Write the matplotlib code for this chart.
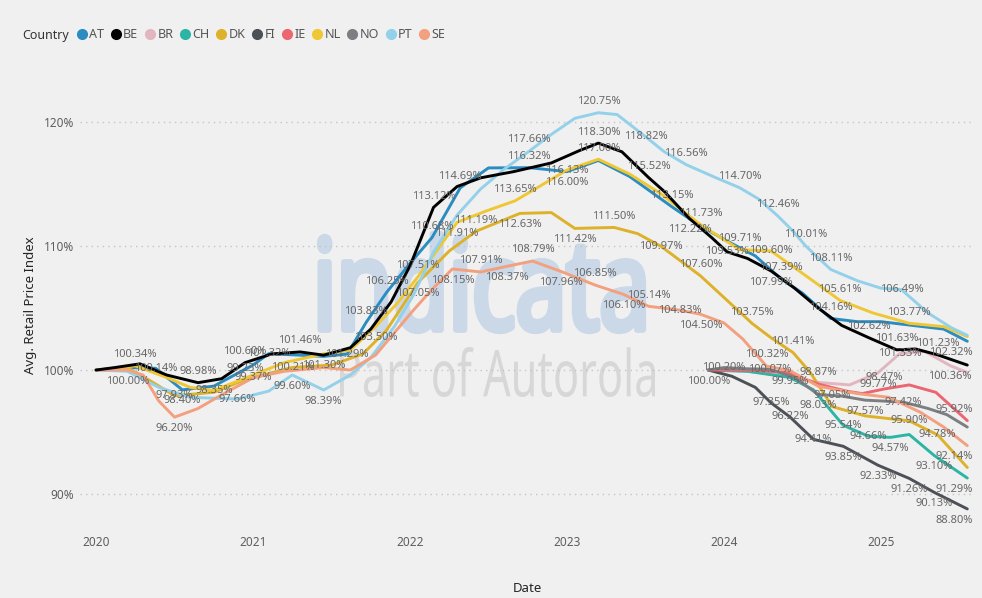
import matplotlib

matplotlib.use("Agg")
import matplotlib.pyplot as plt
from matplotlib.font_manager import FontProperties
from matplotlib.lines import Line2D
from matplotlib.patches import PathPatch
from matplotlib.textpath import TextPath
from matplotlib.transforms import Affine2D

plt.rcParams["font.family"] = ["Noto Sans", "DejaVu Sans"]

# (decimal year, index value, label position: None = no label, 1 above, -1 below, 0 on the point)
at_pts = [
    (2020.00, 100.00, None), (2020.20, 100.20, None), (2020.38, 100.14, 0), (2020.55, 98.40, -1),
    (2020.75, 98.70, None), (2021.00, 100.40, None), (2021.10, 101.32, 0), (2021.30, 101.20, None),
    (2021.45, 101.10, None), (2021.60, 101.29, 0), (2021.72, 103.83, 1), (2021.85, 106.25, 1),
    (2022.00, 108.60, None), (2022.14, 110.68, 1), (2022.32, 114.69, 1), (2022.50, 116.30, None),
    (2022.76, 116.32, 1), (2023.00, 116.00, -1), (2023.20, 116.90, None), (2023.40, 115.60, None),
    (2023.67, 113.15, 1), (2023.85, 111.60, None), (2024.05, 110.20, None), (2024.20, 109.20, None),
    (2024.36, 107.39, 1), (2024.50, 106.20, None), (2024.68, 104.16, 1), (2024.85, 103.90, None),
    (2025.00, 103.90, None), (2025.20, 103.60, None), (2025.40, 103.30, None), (2025.55, 102.32, -1),
]
be_pts = [
    (2020.00, 100.00, None), (2020.12, 100.20, None), (2020.28, 100.50, None), (2020.45, 99.60, None),
    (2020.65, 98.98, 1), (2020.80, 99.30, None), (2020.95, 100.60, 1), (2021.12, 101.30, None),
    (2021.30, 101.46, 1), (2021.45, 101.20, None), (2021.62, 101.80, None), (2021.75, 103.30, None),
    (2021.88, 105.50, None), (2022.00, 108.40, None), (2022.15, 113.12, 1), (2022.30, 114.80, None),
    (2022.45, 115.50, None), (2022.66, 116.00, None), (2022.90, 116.70, None), (2023.08, 117.70, None),
    (2023.20, 118.30, 1), (2023.35, 117.60, None), (2023.52, 115.52, 1), (2023.62, 114.40, None),
    (2023.78, 112.22, -1), (2023.92, 110.70, None), (2024.02, 109.53, 0), (2024.15, 109.00, None),
    (2024.30, 107.99, -1), (2024.45, 106.60, None), (2024.60, 105.00, None), (2024.75, 103.60, None),
    (2024.92, 102.62, 1), (2025.10, 101.63, 1), (2025.22, 101.70, None), (2025.36, 101.23, 1),
    (2025.55, 100.40, None),
]
br_pts = [
    (2023.90, 100.00, None), (2024.15, 99.90, None), (2024.40, 99.50, None), (2024.60, 99.00, None),
    (2024.80, 98.80, None), (2024.98, 99.77, -1), (2025.12, 101.33, 0), (2025.28, 101.50, None),
    (2025.44, 100.36, -1), (2025.55, 99.80, None),
]
ch_pts = [
    (2023.90, 100.00, None), (2024.15, 99.90, None), (2024.42, 99.40, None), (2024.57, 98.40, None),
    (2024.76, 95.54, 0), (2024.92, 94.66, 0), (2025.06, 94.57, -1), (2025.18, 94.80, None),
    (2025.34, 93.10, -1), (2025.55, 91.29, -1),
]
dk_pts = [
    (2020.00, 100.00, None), (2020.20, 100.20, None), (2020.35, 99.10, None), (2020.50, 97.93, 0),
    (2020.75, 98.20, None), (2020.95, 99.23, 1), (2021.25, 100.21, 0), (2021.50, 100.40, None),
    (2021.70, 101.30, None), (2021.85, 103.20, None), (2022.05, 107.05, -1), (2022.25, 109.60, None),
    (2022.42, 111.19, 1), (2022.70, 112.63, -1), (2022.90, 112.70, None), (2023.05, 111.42, -1),
    (2023.30, 111.50, 1), (2023.45, 111.00, None), (2023.60, 109.97, 0), (2023.85, 107.60, 1),
    (2024.18, 103.75, 1), (2024.30, 102.60, None), (2024.44, 101.41, 1), (2024.55, 99.80, None),
    (2024.69, 97.05, 1), (2024.90, 96.30, None), (2025.18, 95.90, 0), (2025.36, 94.78, 0),
    (2025.55, 92.14, 1),
]
fi_pts = [
    (2023.90, 100.00, -1), (2024.05, 99.50, None), (2024.20, 98.60, None), (2024.30, 97.35, 0),
    (2024.42, 96.22, 0), (2024.57, 94.41, 0), (2024.76, 93.85, -1), (2024.98, 92.33, -1),
    (2025.18, 91.26, -1), (2025.34, 90.13, -1), (2025.55, 88.80, -1),
]
ie_pts = [
    (2023.90, 100.00, None), (2024.15, 100.00, None), (2024.40, 99.80, None), (2024.60, 98.87, 1),
    (2024.78, 98.30, None), (2024.88, 98.10, None), (2025.02, 98.47, 1), (2025.18, 98.80, None),
    (2025.35, 98.20, None), (2025.55, 95.92, 1),
]
nl_pts = [
    (2020.00, 100.00, None), (2020.25, 100.34, 1), (2020.45, 99.40, None), (2020.60, 98.60, None),
    (2020.75, 98.35, 0), (2021.00, 99.60, None), (2021.20, 100.60, None), (2021.45, 101.30, -1),
    (2021.62, 101.60, None), (2021.78, 103.50, -1), (2021.92, 105.40, None), (2022.05, 107.51, 1),
    (2022.30, 111.91, -1), (2022.48, 112.80, None), (2022.67, 113.65, 1), (2022.85, 115.00, None),
    (2023.00, 116.13, 0), (2023.20, 117.00, 1), (2023.40, 115.80, None), (2023.60, 114.20, None),
    (2023.85, 111.73, 1), (2024.10, 109.71, 1), (2024.30, 109.60, 0), (2024.50, 107.80, None),
    (2024.74, 105.61, 1), (2024.95, 104.60, None), (2025.18, 103.77, 1), (2025.40, 103.50, None),
    (2025.55, 102.70, None),
]
no_pts = [
    (2023.90, 100.00, None), (2024.00, 100.20, 0), (2024.15, 100.10, None), (2024.29, 100.07, 0),
    (2024.45, 99.40, None), (2024.60, 98.03, -1), (2024.75, 97.90, None), (2024.90, 97.57, -1),
    (2025.14, 97.42, 0), (2025.30, 96.90, None), (2025.42, 96.40, None), (2025.55, 95.40, None),
]
pt_pts = [
    (2020.00, 100.00, None), (2020.20, 99.90, None), (2020.40, 98.60, None), (2020.60, 97.80, None),
    (2020.90, 97.66, 0), (2021.10, 98.30, None), (2021.25, 99.60, -1), (2021.45, 98.39, -1),
    (2021.62, 99.60, None), (2021.75, 101.00, None), (2021.90, 103.50, None), (2022.02, 106.00, None),
    (2022.15, 109.50, None), (2022.30, 112.50, None), (2022.45, 114.60, None), (2022.60, 116.20, None),
    (2022.76, 117.66, 1), (2022.90, 119.00, None), (2023.05, 120.30, None), (2023.20, 120.75, 1),
    (2023.32, 120.60, None), (2023.50, 118.82, 0), (2023.62, 117.60, None), (2023.76, 116.56, 1),
    (2023.95, 115.50, None), (2024.10, 114.70, 1), (2024.22, 113.80, None), (2024.34, 112.46, 1),
    (2024.44, 111.20, None), (2024.52, 110.01, 1), (2024.68, 108.11, 1), (2024.85, 107.20, None),
    (2025.00, 106.60, None), (2025.13, 106.49, 0), (2025.30, 104.60, None), (2025.45, 103.40, None),
    (2025.55, 102.80, None),
]
se_pts = [
    (2020.00, 100.00, None), (2020.20, 100.00, -1), (2020.30, 99.60, None), (2020.40, 97.50, None),
    (2020.50, 96.20, -1), (2020.65, 96.90, None), (2020.80, 98.00, None), (2021.00, 99.37, 0),
    (2021.20, 99.90, None), (2021.45, 100.20, None), (2021.62, 100.00, None), (2021.78, 101.20, None),
    (2021.92, 103.30, None), (2022.02, 104.80, None), (2022.14, 106.50, None), (2022.27, 108.15, -1),
    (2022.45, 107.91, 1), (2022.62, 108.37, -1), (2022.78, 108.79, 1), (2022.96, 107.96, -1),
    (2023.18, 106.85, 1), (2023.36, 106.10, -1), (2023.52, 105.14, 1), (2023.72, 104.83, 0),
    (2023.85, 104.50, -1), (2024.00, 103.80, None), (2024.12, 102.50, None), (2024.27, 100.32, 1),
    (2024.42, 99.95, -1), (2024.60, 98.70, None), (2024.85, 98.10, None), (2025.05, 97.80, None),
    (2025.25, 96.60, None), (2025.40, 95.40, None), (2025.55, 93.90, None),
]

countries = ["AT", "BE", "BR", "CH", "DK", "FI", "IE", "NL", "NO", "PT", "SE"]
series = [at_pts, be_pts, br_pts, ch_pts, dk_pts, fi_pts, ie_pts, nl_pts, no_pts, pt_pts, se_pts]
colors = ["#2A8CC0", "#000000", "#E2B6BE", "#2CB5A5", "#DDB22A", "#4B5157",
          "#EC6670", "#EFC734", "#7C7E82", "#93D1EA", "#F3A07F"]
years = [2020, 2021, 2022, 2023, 2024, 2025]
y_ticks = [90, 100, 110, 120]

W, H = 982, 598
BG = "#F0F0F0"

fig = plt.figure(figsize=(W / 100, H / 100), dpi=100, facecolor=BG)
ax = fig.add_axes([80 / W, 1 - 530 / H, (975 - 80) / W, (530 - 80) / H])
ax.set_facecolor("none")


def watermark(text, box, color, weight, stroke):
    """Stretch a text outline into a pixel box (left, top, right, bottom)."""
    path = TextPath((0, 0), text, size=100, prop=FontProperties(family="Noto Sans", weight=weight))
    ext = path.get_extents()
    left, top, right, bottom = box
    tr = (Affine2D().translate(-ext.x0, -ext.y0)
          .scale((right - left) / ext.width, (bottom - top) / ext.height)
          .translate(left, H - bottom))
    fig.add_artist(PathPatch(path, transform=tr, facecolor=color, edgecolor=color,
                             lw=stroke, joinstyle="round", zorder=-1))


watermark("indicata", (320, 234, 643, 331), "#CAD8E8", "bold", 4.5)
watermark("Part of Autorola", (340, 347, 655, 397), "#D7D7D7", "light", 0)

last_year = max(p[0] for p in at_pts)
for name, pts, color in zip(countries, series, colors):
    t = [p[0] for p in pts]
    v = [p[1] for p in pts]
    ax.plot(t, v, color=color, lw=2.1, zorder=4 if name == "BE" else 3,
            solid_joinstyle="round", solid_capstyle="round")
    for x, y, pos in pts:
        if pos is None:
            continue
        at_end = x >= last_year
        ax.annotate(f"{y:.2f}%", (x, y), xytext=(4 if at_end else 0, 8 * pos),
                    textcoords="offset points", ha="right" if at_end else "center",
                    va="center", fontsize=8, color="#676767", zorder=6)

ax.set_xlim(2019.898, 2025.599)
ax.set_ylim(87.10, 123.39)
ax.set_xticks(years)
ax.set_xticklabels([str(y) for y in years])
ax.set_yticks(y_ticks)
ax.set_yticklabels([f"{y}%" for y in y_ticks])
ax.tick_params(length=0, labelsize=8.5, labelcolor="#605E5C")
ax.tick_params(axis="x", pad=4)
ax.tick_params(axis="y", pad=4)
ax.yaxis.grid(True, linestyle=(0, (1, 3)), color="#C4C4C4", lw=1)
for spine in ax.spines.values():
    spine.set_visible(False)
ax.set_xlabel("Date", fontsize=9.5, color="#252423", labelpad=24)
ax.set_ylabel("Avg. Retail Price Index", fontsize=9.5, color="#252423", labelpad=5)

handles = [Line2D([], [], marker="o", ls="none", color=c, markersize=7) for c in colors]
fig.legend(handles, countries, loc="center left", bbox_to_anchor=(78 / W, 1 - 35 / H),
           ncol=len(countries), frameon=False, fontsize=9, handlelength=0.6,
           handletextpad=0.3, columnspacing=0.62, borderaxespad=0, borderpad=0,
           labelcolor="#555555")
fig.text(22 / W, 1 - 35 / H, "Country", fontweight="bold", fontsize=9, va="center",
         color="#333333")

fig.savefig("out.png", dpi=100, facecolor=BG)
